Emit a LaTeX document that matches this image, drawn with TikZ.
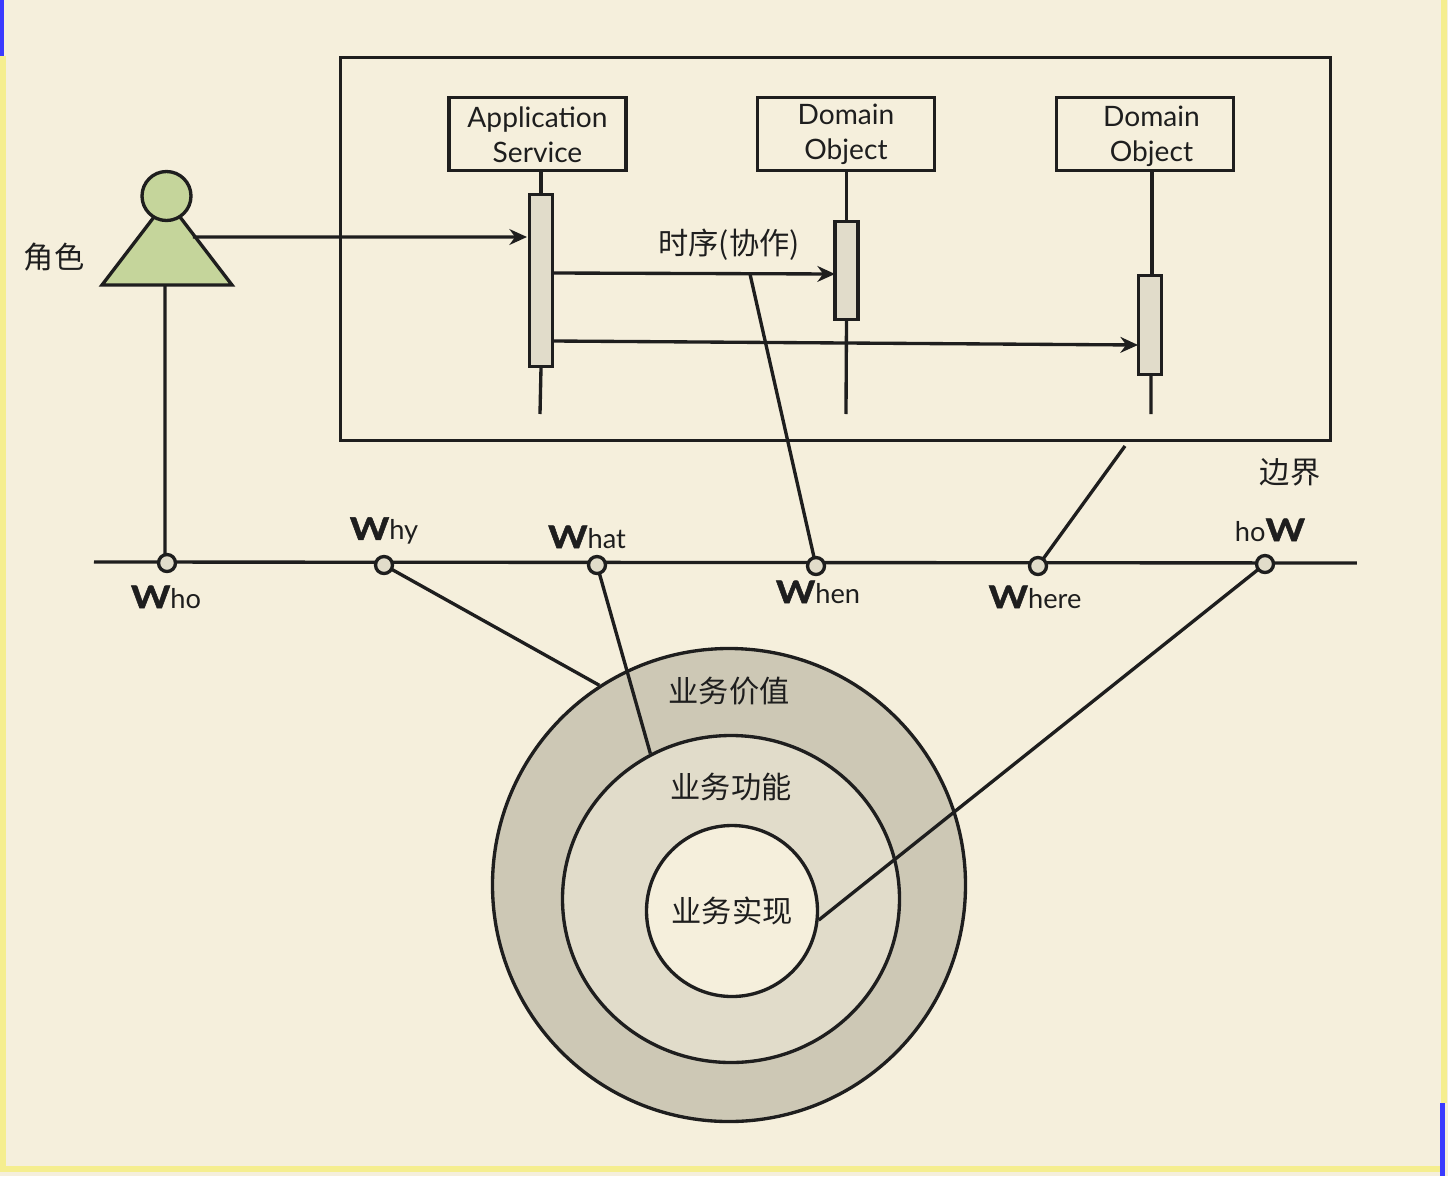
\documentclass[tikz,border=0pt]{standalone}
\usepackage{fontspec}
\setmainfont{Lato}
\newfontfamily\cjk{Noto Sans CJK SC}
\newfontfamily\wfont[BoldFeatures={FakeBold=1.6,FakeStretch=1.2}]{Lato}
\usepackage{tikz}
\usetikzlibrary{arrows.meta,shapes.geometric}
\definecolor{paper}{HTML}{F5EFDC}
\definecolor{stripe}{HTML}{F5EE8F}
\definecolor{marker}{HTML}{3A3AFF}
\definecolor{actorgreen}{HTML}{C5D59B}
\definecolor{ringdark}{HTML}{CDC8B5}
\definecolor{ringlight}{HTML}{E1DCCA}
\definecolor{ink}{HTML}{1E1E1E}
\newcommand{\wword}[2]{{\wfont\bfseries\fontsize{17.8}{20}\selectfont #1}#2}

\begin{document}
\begin{tikzpicture}[scale=0.2]
\tikzstyle{every node}+=[inner sep=0pt, text=ink, font=\fontsize{16}{20}\selectfont]
\tikzstyle{line}=[ink, line width=1.9pt]
\tikzstyle{call}=[line, -{Stealth[length=10pt,width=9pt]}]
\tikzstyle{objbox}=[draw=ink, line width=1.9pt, minimum width=3.54cm, minimum height=1.46cm]
\tikzstyle{bar}=[draw=ink, line width=1.9pt, fill=ringlight, minimum width=0.46cm]
\tikzstyle{point}=[circle, draw=ink, line width=1.9pt, fill=ringlight, minimum size=0.34cm]
\tikzstyle{ring}=[draw=ink, line width=1.9pt]
\tikzstyle{zh}=[font=\cjk\fontsize{17.2}{20}\selectfont]
\tikzstyle{wlabel}=[font=\fontsize{15.5}{20}\selectfont]
\useasboundingbox (0,0) rectangle (144.8,-117.6);
% page
\fill [paper] (0,0) rectangle (144.8,-117.6);
\fill [stripe] (0,-5.6) rectangle (0.6,-117.2);
\fill [stripe] (0,-116.6) rectangle (144.1,-117.2);
\fill [stripe] (144.1,0) rectangle (144.7,-110.3);
\fill [marker] (0,0) rectangle (0.4,-5.6);
\fill [marker] (144,-110.3) rectangle (144.5,-117.6);
% sequence
\node [draw=ink, line width=1.9pt, minimum width=19.8cm, minimum height=7.66cm] (frameBox) at (83.55,-24.9) {};
\node [objbox] (boxApp) at (53.75,-13.4) {};
\node [objbox] (boxObjA) at (84.6,-13.4) {};
\node [objbox] (boxObjB) at (114.5,-13.4) {};
\node [align=center] (textApp) at (53.75,-13.45) {Application\\Service};
\node [align=center] (textObjA) at (84.6,-13.45) {Domain\\Object};
\node [align=center] (textObjB) at (115.15,-13.65) {Domain\\Object};
\node [bar, minimum height=3.44cm] (barApp) at (54.1,-28.05) {};
\node [bar, minimum height=1.96cm] (barObjA) at (84.65,-27.05) {};
\node [bar, minimum height=1.98cm] (barObjB) at (115,-32.5) {};
\coordinate (endApp) at (54,-41.4);
\coordinate (endObjA) at (84.6,-41.4);
\coordinate (endObjB) at (115.1,-41.4);
\draw [line] (barApp.north |- boxApp.south) -- (barApp.north);
\draw [line] (barApp.south) -- (endApp);
\draw [line] (barObjA.north |- boxObjA.south) -- (barObjA.north);
\draw [line] (barObjA.south) -- (endObjA);
\draw [line] (115.2,-17.1) -- (115.2,-27.5);
\draw [line] (115.1,-37.5) -- (endObjB);
% actor
\coordinate (actorTop) at (16.7,-20);
\coordinate (actorLeft) at (10.2,-28.5);
\coordinate (actorRight) at (23.2,-28.5);
\coordinate (actorFoot) at (16.5,-28.5);
\coordinate (actorSide) at (19.3,-23.7);
\draw [line, fill=actorgreen, line join=miter] (actorTop) -- (actorRight) -- (actorLeft) -- cycle;
\node [circle, draw=ink, line width=1.9pt, fill=actorgreen, minimum size=0.98cm] (actorHead) at (16.65,-19.6) {};
\node [zh] (actorText) at (5.4,-25.7) {角色};
% calls
\coordinate (callA) at (55.3,-27.3);
\coordinate (backA) at (83.5,-27.4);
\coordinate (callB) at (55.3,-34.1);
\coordinate (backB) at (113.8,-34.5);
\draw [call] (actorSide) -- (52.7,-23.7);
\draw [call] (callA) -- (backA);
\draw [call] (callB) -- (backB);
\node [zh] (whenText) at (72.9,-24.45) {时序(协作)};
\node [zh] (frameText) at (129,-47.2) {边界};
% rings
\node [ring, circle, fill=ringdark, minimum size=9.46cm] (ringValue) at (72.9,-88.5) {};
\node [ring, ellipse, fill=ringlight, minimum width=6.74cm, minimum height=6.54cm] (ringFunc) at (73.1,-89.9) {};
\node [ring, circle, fill=paper, minimum size=3.42cm] (ringImpl) at (73.2,-91.1) {};
\node [zh] (valueText) at (72.9,-69.1) {业务价值};
\node [zh] (funcText) at (73.1,-78.7) {业务功能};
\node [zh] (implText) at (73.2,-91.1) {业务实现};
% axis
\coordinate (axisLeft) at (9.4,-56.2);
\coordinate (axisRight) at (135.7,-56.3);
\coordinate (whenFoot) at (75,-27.4);
\coordinate (frameFoot) at (112.5,-44.6);
\draw [line] (axisLeft) -- (axisRight);
\draw [line] (actorFoot) -- (16.5,-55.4);
\draw [line] (whenFoot) -- (81.6,-56.6);
\draw [line] (frameFoot) -- (103.8,-56.6);
\draw [line] (38.4,-56.5) -- (ringValue.123);
\draw [line] (59.7,-56.5) -- (ringFunc.119);
\draw [line] (126.5,-56.4) -- (ringImpl.-6);
\node [point] (ptWho) at (16.7,-56.3) {};
\node [point] (ptWhy) at (38.4,-56.5) {};
\node [point] (ptWhat) at (59.7,-56.5) {};
\node [point] (ptWhen) at (81.6,-56.6) {};
\node [point] (ptWhere) at (103.8,-56.6) {};
\node [point] (ptHow) at (126.5,-56.4) {};
\node [wlabel] (textWho) at (16.6,-59.7) {\wword{W}{ho}};
\node [wlabel] (textWhy) at (38.4,-53.1) {\wword{W}{hy}};
\node [wlabel] (textWhat) at (58.7,-53.7) {\wword{W}{hat}};
\node [wlabel] (textWhen) at (81.8,-59.2) {\wword{W}{hen}};
\node [wlabel] (textWhere) at (103.5,-59.7) {\wword{W}{here}};
\node [wlabel] (textHow) at (127,-53) {ho\wword{W}{}};
\end{tikzpicture}
\end{document}
